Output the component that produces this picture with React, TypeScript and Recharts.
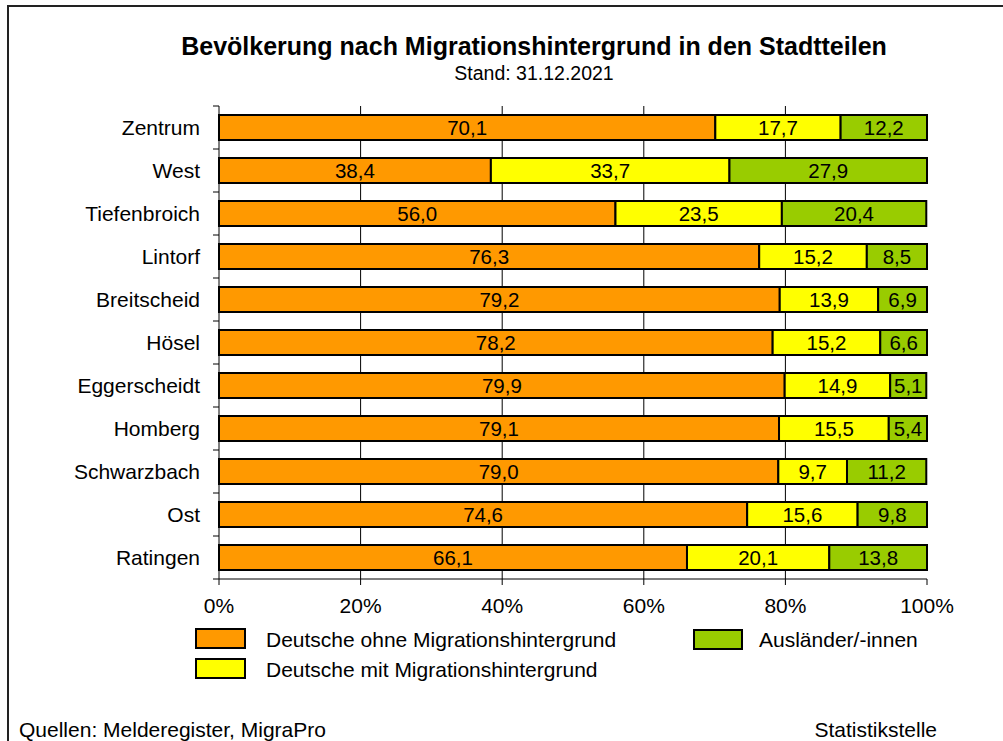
import { Bar, BarChart, CartesianGrid, LabelList, XAxis, YAxis } from "recharts";

const districts = [
  "Zentrum",
  "West",
  "Tiefenbroich",
  "Lintorf",
  "Breitscheid",
  "Hösel",
  "Eggerscheidt",
  "Homberg",
  "Schwarzbach",
  "Ost",
  "Ratingen",
];
const ohneMigration = [70.1, 38.4, 56.0, 76.3, 79.2, 78.2, 79.9, 79.1, 79.0, 74.6, 66.1];
const mitMigration = [17.7, 33.7, 23.5, 15.2, 13.9, 15.2, 14.9, 15.5, 9.7, 15.6, 20.1];
const auslaender = [12.2, 27.9, 20.4, 8.5, 6.9, 6.6, 5.1, 5.4, 11.2, 9.8, 13.8];
const percentTicks = [0, 20, 40, 60, 80, 100];

const seriesNames = [
  "Deutsche ohne Migrationshintergrund",
  "Deutsche mit Migrationshintergrund",
  "Ausländer/-innen",
];
const COLORS = ["#ff9900", "#ffff00", "#99cc00"];

const W = 1003;
const H = 741;
const FONT = "'Liberation Sans', Arial, sans-serif";
const MARGIN = { top: 106, right: 76, bottom: 132, left: 19 };
const Y_AXIS_W = 200;
const TICK_SIZE = 6;
const TICK_MARGIN = 13;

const rows = districts.map((name, i) => ({
  name,
  ohne: ohneMigration[i],
  mit: mitMigration[i],
  ausl: auslaender[i],
}));

// band height derived from the plot height and category count
const plotHeight = H - MARGIN.top - MARGIN.bottom - 30;
const band = plotHeight / districts.length;

const fmt = (v: unknown) => Number(v).toFixed(1).replace(".", ",");

function CategoryTick(props: any) {
  const { x, y, payload, index } = props;
  const axisX = x + TICK_SIZE + TICK_MARGIN;
  const last = index === districts.length - 1;
  return (
    <g>
      <line x1={axisX - TICK_SIZE} x2={axisX} y1={y - band / 2} y2={y - band / 2} stroke="#000" />
      {last && (
        <line x1={axisX - TICK_SIZE} x2={axisX} y1={y + band / 2} y2={y + band / 2} stroke="#000" />
      )}
      <text x={x} y={y} dy="0.355em" textAnchor="end" fontSize={21} fontFamily={FONT} fill="#000">
        {payload.value}
      </text>
    </g>
  );
}

export default function App() {
  return (
    <div style={{ position: "absolute", left: 0, top: 0, width: W, height: H, background: "#fff", overflow: "hidden" }}>
      <BarChart
        width={W}
        height={H}
        data={rows}
        layout="vertical"
        margin={MARGIN}
        barCategoryGap={0}
      >
        <CartesianGrid horizontal={false} verticalValues={[20, 40, 60, 80]} stroke="#000" />
        <XAxis
          type="number"
          domain={[0, 100]}
          ticks={percentTicks}
          tickFormatter={(v: number) => `${v}%`}
          stroke="#000"
          tickSize={TICK_SIZE}
          tickMargin={TICK_MARGIN}
          tick={{ fontSize: 21, fontFamily: FONT, fill: "#000" }}
          interval={0}
        />
        <YAxis
          type="category"
          dataKey="name"
          width={Y_AXIS_W}
          stroke="#000"
          tickLine={false}
          tickSize={TICK_SIZE}
          tickMargin={TICK_MARGIN}
          tick={<CategoryTick />}
          interval={0}
        />
        <Bar dataKey="ohne" stackId="a" fill={COLORS[0]} stroke="#000" strokeWidth={2} barSize={25} isAnimationActive={false}>
          <LabelList dataKey="ohne" position="center" formatter={fmt} fill="#000" fontSize={20.5} fontFamily={FONT} />
        </Bar>
        <Bar dataKey="mit" stackId="a" fill={COLORS[1]} stroke="#000" strokeWidth={2} barSize={25} isAnimationActive={false}>
          <LabelList dataKey="mit" position="center" formatter={fmt} fill="#000" fontSize={20.5} fontFamily={FONT} />
        </Bar>
        <Bar dataKey="ausl" stackId="a" fill={COLORS[2]} stroke="#000" strokeWidth={2} barSize={25} isAnimationActive={false}>
          <LabelList dataKey="ausl" position="center" formatter={fmt} fill="#000" fontSize={20.5} fontFamily={FONT} />
        </Bar>
      </BarChart>

      <svg width={W} height={H} style={{ position: "absolute", left: 0, top: 0, pointerEvents: "none" }} fontFamily={FONT}>
        <path d={`M8 ${H + 5} V6 H${W + 5}`} fill="none" stroke="#222" strokeWidth={2} />
        <text x={534} y={55} textAnchor="middle" fontSize={25} fontWeight="bold" fill="#000">
          Bevölkerung nach Migrationshintergrund in den Stadtteilen
        </text>
        <text x={534} y={80} textAnchor="middle" fontSize={19.5} fill="#000">
          Stand: 31.12.2021
        </text>

        <rect x={196} y={629} width={49} height={19} fill={COLORS[0]} stroke="#000" strokeWidth={2} />
        <text x={266} y={647} fontSize={21} fill="#000">{seriesNames[0]}</text>
        <rect x={196} y={659} width={49} height={19} fill={COLORS[1]} stroke="#000" strokeWidth={2} />
        <text x={266} y={677} fontSize={21} fill="#000">{seriesNames[1]}</text>
        <rect x={694} y={630} width={48} height={19} fill={COLORS[2]} stroke="#000" strokeWidth={2} />
        <text x={759} y={647} fontSize={21} fill="#000">{seriesNames[2]}</text>

        <text x={19} y={737} fontSize={21} fill="#000">Quellen: Melderegister, MigraPro</text>
        <text x={937} y={737} textAnchor="end" fontSize={21} fill="#000">Statistikstelle</text>
      </svg>
    </div>
  );
}
